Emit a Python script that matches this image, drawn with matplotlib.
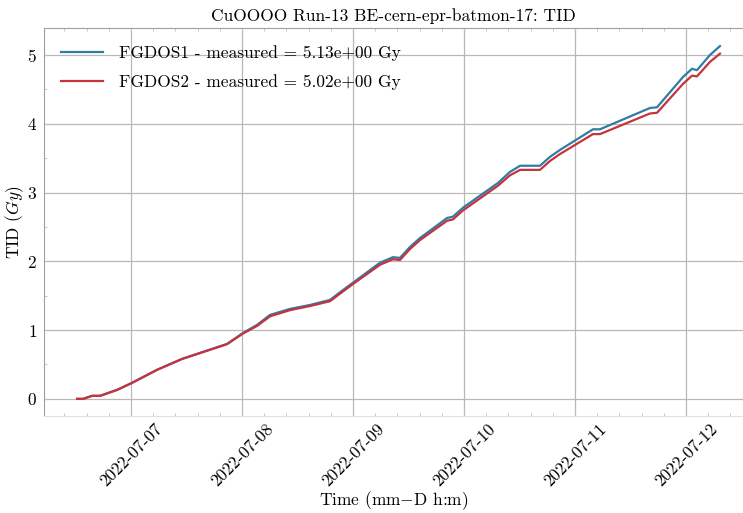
import matplotlib
matplotlib.use("Agg")
import matplotlib.pyplot as plt
import matplotlib.dates as mdates
from matplotlib.ticker import AutoMinorLocator, MultipleLocator
import pandas as pd

plt.rcParams["font.family"] = "serif"
plt.rcParams["font.serif"] = ["cmr10"]
plt.rcParams["mathtext.fontset"] = "cm"
plt.rcParams["axes.formatter.use_mathtext"] = True
plt.rcParams["axes.unicode_minus"] = True

# Sampled timestamps of the two dosimeter channels
times = [
    "2022-07-06 12:20", "2022-07-06 13:38", "2022-07-06 15:34", "2022-07-06 17:18",
    "2022-07-06 21:00", "2022-07-07 00:13", "2022-07-07 05:37", "2022-07-07 11:01",
    "2022-07-07 15:34", "2022-07-07 20:45", "2022-07-08 00:13", "2022-07-08 03:14",
    "2022-07-08 06:03", "2022-07-08 10:22", "2022-07-08 14:43", "2022-07-08 19:02",
    "2022-07-08 21:11", "2022-07-09 00:00", "2022-07-09 05:50", "2022-07-09 08:38",
    "2022-07-09 10:09", "2022-07-09 12:20", "2022-07-09 14:30", "2022-07-09 20:20",
    "2022-07-09 21:37", "2022-07-09 23:47", "2022-07-10 07:21", "2022-07-10 09:56",
    "2022-07-10 12:07", "2022-07-10 16:26", "2022-07-10 18:36", "2022-07-10 20:45",
    "2022-07-11 03:53", "2022-07-11 05:24", "2022-07-11 16:13", "2022-07-11 17:44",
    "2022-07-11 23:21", "2022-07-12 01:18", "2022-07-12 02:23", "2022-07-12 05:11",
    "2022-07-12 07:21",
]

# Accumulated dose (Gy)
fgdos1 = [
    0.0, 0.0, 0.044, 0.044, 0.131, 0.233, 0.422, 0.581, 0.683, 0.799,
    0.959, 1.075, 1.221, 1.308, 1.366, 1.439, 1.55, 1.69, 1.98, 2.06,
    2.05, 2.21, 2.34, 2.63, 2.65, 2.78, 3.14, 3.30, 3.39, 3.39,
    3.52, 3.62, 3.92, 3.92, 4.23, 4.24, 4.68, 4.80, 4.78, 5.00,
    5.13,
]
fgdos2 = [
    0.0, 0.0, 0.044, 0.044, 0.131, 0.233, 0.422, 0.58, 0.68, 0.795,
    0.95, 1.06, 1.20, 1.29, 1.35, 1.42, 1.53, 1.67, 1.95, 2.03,
    2.02, 2.18, 2.31, 2.59, 2.61, 2.74, 3.10, 3.25, 3.33, 3.33,
    3.46, 3.56, 3.85, 3.85, 4.15, 4.16, 4.58, 4.70, 4.69, 4.90,
    5.02,
]

labels = ["FGDOS1", "FGDOS2"]
colors = ["#2f7da3", "#c8323c"]

t = pd.to_datetime(times)
fs = 12.5

fig = plt.figure(figsize=(7.43, 5.13), dpi=100)
ax = fig.add_axes([0.0592, 0.189, 0.9408, 0.756])

for name, vals, c in zip(labels, [fgdos1, fgdos2], colors):
    ax.plot(t, vals, color=c, lw=1.6,
            label=f"{name} - measured = {vals[-1]:.2e} Gy")

ax.set_xlim(pd.Timestamp("2022-07-06 05:10"), pd.Timestamp("2022-07-12 12:20"))
ax.set_ylim(-0.25, 5.39)

ax.xaxis.set_major_locator(mdates.DayLocator())
ax.xaxis.set_major_formatter(mdates.DateFormatter("%Y-%m-%d"))
ax.xaxis.set_minor_locator(AutoMinorLocator(5))
ax.yaxis.set_major_locator(MultipleLocator(1))
ax.yaxis.set_minor_locator(AutoMinorLocator(2))

ax.grid(True, which="major", color="#b8b8b8", lw=0.9)
for s in ax.spines.values():
    s.set_color("#a0a0a0")
    s.set_linewidth(0.8)
ax.spines["bottom"].set_color("#e0e0e0")
ax.spines["right"].set_visible(False)

ax.tick_params(axis="both", which="both", direction="in", top=True,
               color="#c0c0c0", labelsize=fs)
ax.tick_params(which="major", length=3)
ax.tick_params(which="minor", length=2)
ax.tick_params(axis="y", pad=5)
plt.setp(ax.get_xticklabels(), rotation=45, ha="center")

ax.set_title("CuOOOO Run-13 BE-cern-epr-batmon-17: TID", fontsize=fs, pad=5)
ax.set_xlabel("Time (mm$-$D h:m)", fontsize=fs, labelpad=0)
ax.set_ylabel("TID ($Gy$)", fontsize=fs, labelpad=1)

leg = ax.legend(loc="upper left", frameon=False, fontsize=fs, handlelength=2.4,
                labelspacing=0.75, borderaxespad=0.6, handletextpad=0.9)

fig.savefig("out.png", dpi=100)
